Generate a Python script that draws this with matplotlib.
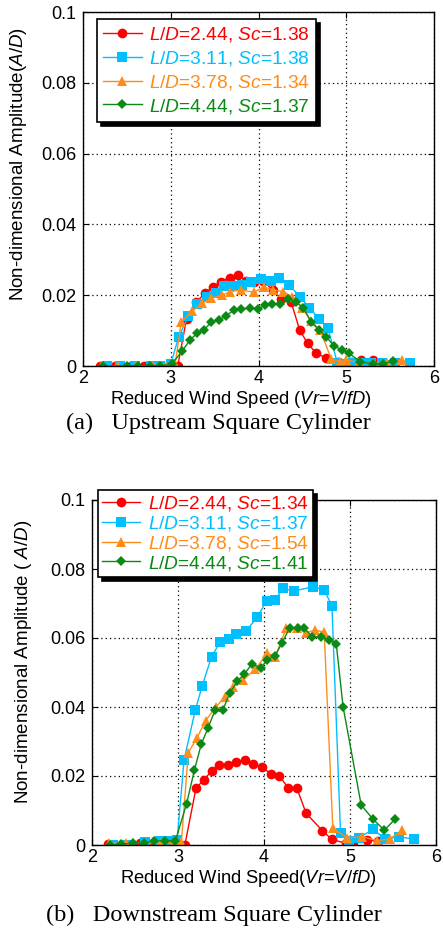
import matplotlib
matplotlib.use("Agg")
import matplotlib.pyplot as plt

plt.rcParams['font.family'] = ['Liberation Sans', 'DejaVu Sans']
plt.rcParams['mathtext.fontset'] = 'custom'
plt.rcParams['mathtext.rm'] = 'Liberation Sans'
plt.rcParams['mathtext.it'] = 'Liberation Sans:italic'

# ---------------- Upstream (a) ----------------
up_red_x = [2.19, 2.36, 2.55, 2.70, 2.86, 3.0, 3.08, 3.18, 3.29, 3.39, 3.48, 3.57, 3.67, 3.77, 3.86, 3.95, 4.05, 4.16, 4.26, 4.37, 4.47, 4.56, 4.65, 4.77, 4.91, 5.05, 5.17, 5.30]
up_red_y = [0, 0, 0, 0, 0, 0, 0, 0.0134, 0.018, 0.0206, 0.0224, 0.0238, 0.025, 0.0258, 0.0241, 0.0238, 0.024, 0.0216, 0.019, 0.0182, 0.0101, 0.0064, 0.0038, 0.0022, 0.0012, 0.001, 0.0017, 0.0017]

up_cyan_x = [2.27, 2.42, 2.59, 2.78, 2.88, 3.0, 3.09, 3.2, 3.30, 3.41, 3.51, 3.61, 3.70, 3.81, 3.92, 4.03, 4.14, 4.23, 4.35, 4.47, 4.58, 4.69, 4.79, 4.90, 5.0, 5.08, 5.17, 5.28, 5.41, 5.56, 5.73]
up_cyan_y = [0, 0, 0, 0, 0, 0.0005, 0.0082, 0.014, 0.0175, 0.0196, 0.0206, 0.0227, 0.0227, 0.023, 0.0236, 0.0246, 0.024, 0.025, 0.0229, 0.0196, 0.0165, 0.0133, 0.0108, 0.0008, 0.0005, 0.0008, 0.0008, 0.0008, 0.0008, 0.0008, 0.0008]

up_orange_x = [2.2, 2.4, 2.6, 2.8, 2.95, 3.05, 3.12, 3.24, 3.36, 3.46, 3.58, 3.68, 3.80, 3.95, 4.06, 4.16, 4.28, 4.38, 4.50, 4.60, 4.70, 4.83, 4.93, 5.0, 5.15, 5.30, 5.47, 5.63]
up_orange_y = [0, 0, 0, 0, 0, 0.0005, 0.0125, 0.0154, 0.0177, 0.0191, 0.020, 0.021, 0.0215, 0.0208, 0.0224, 0.0215, 0.021, 0.0196, 0.0163, 0.0127, 0.0102, 0.002, 0.0012, 0.0017, 0.001, 0.0008, 0.0008, 0.0017]

up_green_x = [2.23, 2.50, 2.63, 2.76, 2.875, 3.01, 3.13, 3.22, 3.30, 3.38, 3.46, 3.55, 3.63, 3.72, 3.80, 3.90, 3.99, 4.07, 4.15, 4.25, 4.34, 4.43, 4.51, 4.60, 4.69, 4.77, 4.86, 4.95, 5.03, 5.16, 5.30, 5.42, 5.53]
up_green_y = [0, 0, 0, 0, 0, 0.0005, 0.0042, 0.0074, 0.0092, 0.0102, 0.0124, 0.013, 0.0142, 0.0158, 0.016, 0.0165, 0.016, 0.0172, 0.0174, 0.0174, 0.019, 0.018, 0.0165, 0.0124, 0.0102, 0.0083, 0.0057, 0.0045, 0.0036, 0.0012, 0.0006, 0.0006, 0.0014]

up_labels = [r"$\mathit{L/D}$=2.44, $\mathit{Sc}$=1.38",
             r"$\mathit{L/D}$=3.11, $\mathit{Sc}$=1.38",
             r"$\mathit{L/D}$=3.78, $\mathit{Sc}$=1.34",
             r"$\mathit{L/D}$=4.44, $\mathit{Sc}$=1.37"]

# ---------------- Downstream (b) ----------------
dn_red_x = [2.19, 2.37, 2.56, 2.78, 2.95, 3.08, 3.21, 3.30, 3.39, 3.48, 3.58, 3.68, 3.78, 3.87, 3.98, 4.08, 4.18, 4.28, 4.38, 4.49, 4.68, 4.79, 4.95, 5.04, 5.20, 5.32]
dn_red_y = [0.0003, 0, 0.0005, 0, 0.0005, 0, 0.0166, 0.0188, 0.0215, 0.0232, 0.0232, 0.024, 0.0246, 0.0235, 0.0225, 0.0206, 0.020, 0.0166, 0.0166, 0.0092, 0.0041, 0.0016, 0.0005, 0.001, 0.0014, 0.0012]

dn_cyan_x = [2.24, 2.41, 2.62, 2.79, 2.90, 2.99, 3.07, 3.20, 3.28, 3.39, 3.49, 3.59, 3.68, 3.79, 3.92, 4.03, 4.13, 4.22, 4.35, 4.57, 4.70, 4.79, 4.89, 4.99, 5.10, 5.27, 5.41, 5.57, 5.74]
dn_cyan_y = [0, 0, 0.0008, 0.0012, 0.0012, 0.0015, 0.0246, 0.039, 0.046, 0.0546, 0.0588, 0.0597, 0.0612, 0.062, 0.066, 0.0707, 0.071, 0.0744, 0.0736, 0.0749, 0.0739, 0.0693, 0.0034, 0.0012, 0.0021, 0.0045, 0.0017, 0.0024, 0.0017]

dn_orange_x = [2.2, 2.4, 2.6, 2.8, 2.95, 3.04, 3.12, 3.22, 3.32, 3.44, 3.55, 3.64, 3.76, 3.90, 4.04, 4.13, 4.26, 4.38, 4.49, 4.59, 4.70, 4.80, 4.97, 5.14, 5.31, 5.46, 5.61]
dn_orange_y = [0.0005, 0.0005, 0.0005, 0.0005, 0.0008, 0.001, 0.0268, 0.031, 0.036, 0.040, 0.043, 0.0459, 0.0478, 0.051, 0.0556, 0.0546, 0.0628, 0.063, 0.0615, 0.0623, 0.0617, 0.0048, 0.0021, 0.0024, 0.0013, 0.0017, 0.0043]

dn_green_x = [2.21, 2.34, 2.48, 2.60, 2.72, 2.85, 2.97, 3.10, 3.19, 3.27, 3.35, 3.43, 3.52, 3.60, 3.69, 3.77, 3.86, 3.96, 4.04, 4.13, 4.21, 4.30, 4.39, 4.47, 4.56, 4.66, 4.75, 4.84, 4.92, 5.13, 5.27, 5.40, 5.52]
dn_green_y = [0, 0.0003, 0.0005, 0.0005, 0.0012, 0.0012, 0.0012, 0.012, 0.0216, 0.0292, 0.034, 0.039, 0.039, 0.044, 0.0475, 0.0495, 0.0525, 0.0514, 0.0536, 0.0549, 0.0586, 0.063, 0.063, 0.0628, 0.0604, 0.0604, 0.0594, 0.0583, 0.040, 0.0116, 0.0074, 0.0043, 0.0074]

dn_labels = [r"$\mathit{L/D}$=2.44, $\mathit{Sc}$=1.34",
             r"$\mathit{L/D}$=3.11, $\mathit{Sc}$=1.37",
             r"$\mathit{L/D}$=3.78, $\mathit{Sc}$=1.54",
             r"$\mathit{L/D}$=4.44, $\mathit{Sc}$=1.41"]

x_ticks = [2, 3, 4, 5, 6]
y_ticks = [0, 0.02, 0.04, 0.06, 0.08, 0.1]
y_ticklabels = ["0", "0.02", "0.04", "0.06", "0.08", "0.1"]

colors = ["#ff0000", "#00bfff", "#ff8c1a", "#0a8a14"]
markers = ["o", "s", "^", "D"]
msizes = [7, 7, 7.5, 5.2]

fig = plt.figure(figsize=(4.43, 9.34), dpi=100)
ax1 = fig.add_axes([83/443, 1-366/934, (434-83)/443, (366-12)/934])
ax2 = fig.add_axes([92/443, 1-845/934, (436-92)/443, (845-500)/934])

def draw(ax, series, labels, legend_anchor, labelspacing, borderpad, xlabel, ylabel,
         xlab_x, ylab_x, ylab_y):
    for (xs, ys), c, m, ms, lab in zip(series, colors, markers, msizes, labels):
        ax.plot(xs, ys, color=c, marker=m, markersize=ms, linewidth=1.0,
                markeredgewidth=0, label=lab)
    ax.set_xlim(2, 6)
    ax.set_ylim(0, 0.1)
    ax.set_xticks(x_ticks)
    ax.set_yticks(y_ticks)
    ax.set_yticklabels(y_ticklabels)
    ax.tick_params(axis='x', pad=3)
    ax.tick_params(axis='y', pad=5)
    ax.tick_params(direction='in', top=True, right=True, labelsize=13, length=4)
    ax.grid(True, linestyle=(0, (1, 2.5)), color='black', linewidth=0.9)
    for s in ax.spines.values():
        s.set_linewidth(1.0)
    ax.set_xlabel(xlabel, fontsize=13.2, labelpad=1)
    ax.xaxis.label.set_x(xlab_x)
    ax.set_ylabel(ylabel, fontsize=13.5)
    ax.yaxis.set_label_coords(ylab_x, ylab_y)
    leg = ax.legend(loc='upper left', bbox_to_anchor=legend_anchor, fontsize=13.8,
                    frameon=True, fancybox=False, edgecolor='black', framealpha=1,
                    shadow={'color': 'black', 'alpha': 1, 'ox': 3, 'oy': -3},
                    handlelength=2.0, handletextpad=0.4, labelspacing=labelspacing,
                    borderpad=borderpad, borderaxespad=0)
    leg.get_frame().set_linewidth(1.2)
    for t, c in zip(leg.get_texts(), colors):
        t.set_color(c)

draw(ax1, [(up_red_x, up_red_y), (up_cyan_x, up_cyan_y), (up_orange_x, up_orange_y), (up_green_x, up_green_y)],
     up_labels, (0.04, 0.98), 0.25, 0.32,
     r"Reduced Wind Speed ($\mathit{Vr}$=$\mathit{V/fD}$)",
     r"Non-dimensional Amplitude($\mathit{A/D}$)", 0.45, -0.155, 0.57)
draw(ax2, [(dn_red_x, dn_red_y), (dn_cyan_x, dn_cyan_y), (dn_orange_x, dn_orange_y), (dn_green_x, dn_green_y)],
     dn_labels, (0.017, 1.029), 0.04, 0.22,
     r"Reduced Wind Speed($\mathit{Vr}$=$\mathit{V/fD}$)",
     r"Non-dimensional Amplitude ( $\mathit{A/D}$)", 0.455, -0.17, 0.53)

fig.text(218/443, 1-423/934, "(a)   Upstream Square Cylinder", ha='center', va='center',
         fontsize=17.5, family='Liberation Serif')
fig.text(214/443, 1-915/934, "(b)   Downstream Square Cylinder", ha='center', va='center',
         fontsize=17.5, family='Liberation Serif')

fig.savefig("out.png", dpi=100)
